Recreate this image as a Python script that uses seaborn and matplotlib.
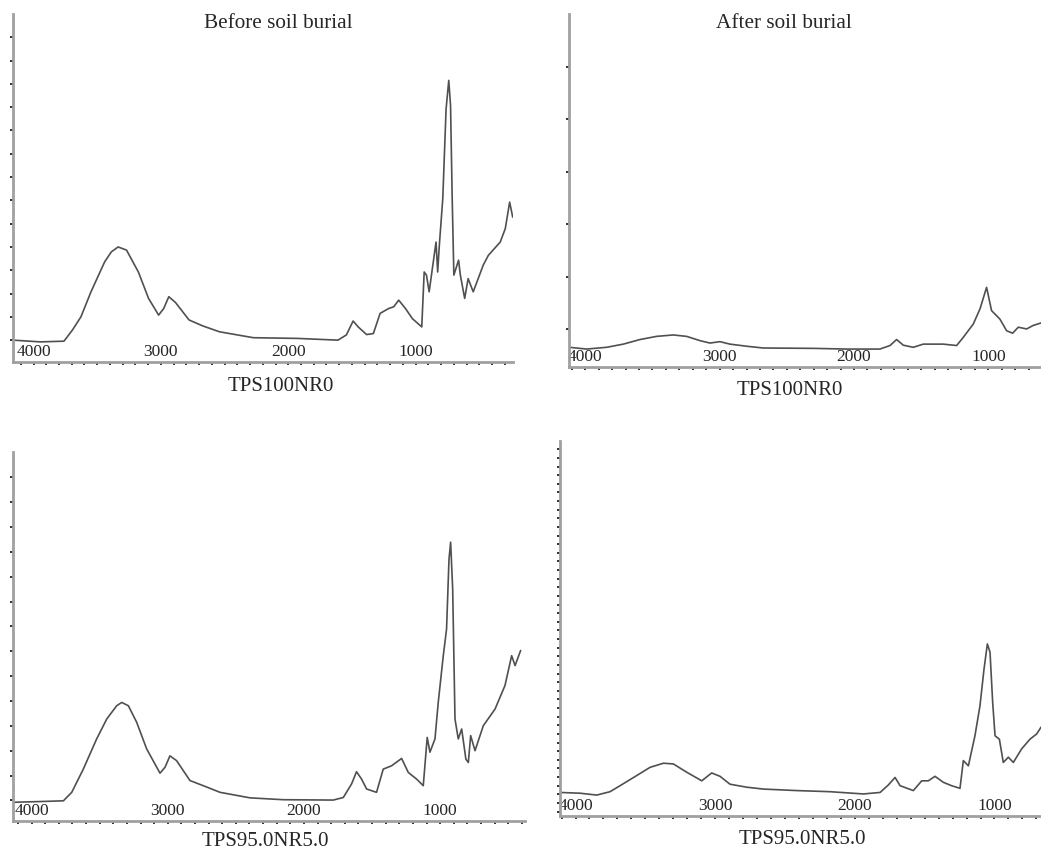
import numpy as np
import seaborn as sns
import matplotlib.pyplot as plt
from matplotlib.ticker import MultipleLocator

sns.set_style("white")
plt.rcParams["font.family"] = ["Liberation Serif", "DejaVu Serif"]

# Spectra: wavenumber (cm-1) and intensity (a.u., 0-100 of panel height)
before_tps100_wn = [4159, 3947, 3761, 3695, 3628, 3549, 3442, 3389, 3336, 3270, 3177, 3097,
                    3018, 2978, 2938, 2885, 2779, 2672, 2540, 2274, 1929, 1610, 1544, 1491,
                    1451, 1385, 1332, 1279, 1212, 1172, 1133, 1080, 1026, 952, 933, 915, 894,
                    840, 827, 814, 787, 761, 740, 726, 713, 700, 663, 649, 615, 588, 548, 469,
                    429, 336, 296, 262, 238]
before_tps100_int = [6.2, 5.7, 5.9, 9.1, 12.9, 20.1, 28.7, 31.6, 33.0, 32.1, 25.8, 18.2,
                     13.4, 15.3, 18.7, 17.0, 12.0, 10.3, 8.6, 6.9, 6.7, 6.2, 7.7, 11.7,
                     10.0, 7.8, 8.1, 13.9, 15.3, 15.8, 17.7, 15.3, 12.4, 10.0, 25.8, 24.9, 20.1,
                     34.4, 25.8, 33.5, 46.9, 72.7, 80.9, 73.7, 46.9, 24.9, 29.2, 24.9, 18.2, 23.9,
                     20.1, 27.8, 30.6, 34.4, 38.3, 45.9, 41.6]

after_tps100_wn = [4119, 3990, 3841, 3717, 3593, 3469, 3345, 3246, 3147, 3072, 2998, 2923,
                   2799, 2675, 2303, 2055, 1807, 1732, 1683, 1633, 1559, 1484, 1335, 1236,
                   1187, 1112, 1062, 1013, 976, 914, 864, 819, 777, 715, 666, 608]
after_tps100_int = [5.5, 5.0, 5.5, 6.4, 7.7, 8.6, 9.0, 8.6, 7.4, 6.7, 7.1, 6.4,
                    5.8, 5.3, 5.2, 5.0, 5.0, 6.0, 7.7, 6.1, 5.5, 6.4, 6.4, 6.0,
                    8.3, 12.1, 16.4, 22.5, 15.9, 13.5, 10.2, 9.5, 11.2, 10.7, 11.7, 12.4]

before_tps95_wn = [4134, 3938, 3766, 3705, 3620, 3522, 3448, 3375, 3338, 3289, 3228, 3155,
                   3057, 3020, 2984, 2935, 2837, 2739, 2616, 2396, 2152, 1785, 1711, 1650,
                   1614, 1577, 1540, 1467, 1418, 1357, 1283, 1234, 1173, 1124, 1095, 1075,
                   1038, 1014, 977, 953, 935, 923, 908, 891, 867, 842, 811, 793, 776, 744,
                   683, 597, 524, 475, 450, 409]
before_tps95_int = [5.0, 5.2, 5.4, 7.7, 14.0, 22.2, 27.6, 31.2, 32.1, 31.2, 26.7, 19.5,
                    12.9, 14.5, 17.6, 16.3, 10.9, 9.5, 7.7, 6.2, 5.7, 5.6, 6.3, 10.0,
                    13.3, 11.3, 8.6, 7.7, 14.0, 14.9, 16.9, 13.1, 11.3, 9.5, 22.6, 18.6,
                    22.2, 32.1, 44.8, 52.0, 71.0, 75.6, 62.9, 27.6, 22.2, 24.9, 16.7, 15.8,
                    23.1, 19.0, 25.8, 30.3, 36.7, 44.8, 42.1, 46.2]

after_tps95_wn = [4111, 3968, 3848, 3753, 3681, 3562, 3466, 3370, 3299, 3204, 3096, 3025,
                  2965, 2894, 2774, 2655, 2416, 2177, 1939, 1819, 1760, 1712, 1676, 1581,
                  1521, 1474, 1426, 1366, 1307, 1247, 1223, 1187, 1140, 1104, 1075, 1051,
                  1032, 1013, 996, 965, 937, 901, 865, 806, 746, 698, 667]
after_tps95_int = [6.2, 6.0, 5.5, 6.4, 8.0, 10.7, 12.9, 14.0, 13.8, 11.6, 9.3, 11.4,
                   10.5, 8.4, 7.6, 7.1, 6.7, 6.4, 5.8, 6.2, 8.2, 10.2, 8.0, 6.7,
                   9.3, 9.3, 10.5, 8.9, 8.0, 7.3, 14.7, 13.3, 21.3, 29.3, 39.1, 45.8,
                   43.6, 30.2, 21.3, 20.4, 14.2, 15.6, 14.2, 17.8, 20.4, 21.8, 23.6]

column_titles = ["Before soil burial", "After soil burial"]
sample_names = ["TPS100NR0", "TPS100NR0", "TPS95.0NR5.0", "TPS95.0NR5.0"]
wn_ticks = [4000, 3000, 2000, 1000]

W, H = 1041, 854
fig = plt.figure(figsize=(W / 100, H / 100), dpi=100)

# panel boxes in pixels: left, right, top, bottom ; x limits ; y tick spacing ; caption offset
panels = [
    dict(box=(13.3, 512.7, 15, 362.7), xlim=(4159, 238), wn=before_tps100_wn,
         y=before_tps100_int, ystep=6.7, title=column_titles[0], tx=0.53, cx=0.536, cy=24),
    dict(box=(569.3, 1041, 15, 367.7), xlim=(4119, 608), wn=after_tps100_wn,
         y=after_tps100_int, ystep=14.9, title=column_titles[1], tx=0.455, cx=0.468, cy=23),
    dict(box=(13.3, 525, 453.3, 821.7), xlim=(4134, 377), wn=before_tps95_wn,
         y=before_tps95_int, ystep=6.75, title=None, tx=0, cx=0.492, cy=20),
    dict(box=(560, 1041, 441.7, 816.7), xlim=(4111, 667), wn=after_tps95_wn,
         y=after_tps95_int, ystep=2.3, title=None, tx=0, cx=0.503, cy=23),
]

for p, name in zip(panels, sample_names):
    l, r, t, b = p["box"]
    ax = fig.add_axes([l / W, 1 - b / H, (r - l) / W, (b - t) / H])
    sns.lineplot(x=p["wn"], y=p["y"], ax=ax, color="#505050", linewidth=1.2)
    ax.set_xlim(*p["xlim"])
    ax.set_ylim(0, 100)

    for side in ["top", "right"]:
        ax.spines[side].set_visible(False)
    for side in ["left", "bottom"]:
        ax.spines[side].set_color("#a0a0a0")
        ax.spines[side].set_linewidth(2)

    ax.set_xticks(wn_ticks)
    ax.set_xticklabels([str(v) for v in wn_ticks])
    ax.xaxis.set_minor_locator(MultipleLocator(100))
    ax.tick_params(axis="x", which="both", direction="out", length=2, width=1.3,
                   color="#222222", bottom=True)
    ax.tick_params(axis="x", which="major", labelsize=12.5, pad=-15.5)
    ax.set_yticks(np.arange(100 - (100 // p["ystep"]) * p["ystep"], 100, p["ystep"]))
    ax.tick_params(axis="y", direction="out", length=2, width=1.3, color="#222222",
                   left=True, labelleft=False)
    ax.set_xlabel("")
    ax.set_ylabel("")
    ax.set_facecolor("white")

    if p["title"]:
        ax.text(p["tx"], 1 - 9 / (b - t), p["title"], transform=ax.transAxes,
                ha="center", va="center", fontsize=15.3)
    ax.text(p["cx"], -p["cy"] / (b - t), name, transform=ax.transAxes,
            ha="center", va="center", fontsize=15)

fig.savefig("out.png", dpi=100, facecolor="white")
